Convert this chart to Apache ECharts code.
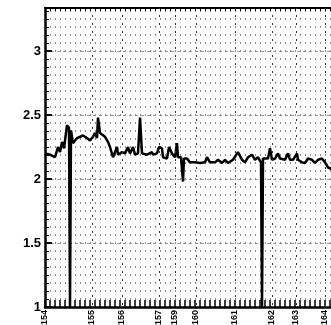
<!DOCTYPE html>
<html><head><meta charset="utf-8">
<script src="https://cdn.jsdelivr.net/npm/echarts@6/dist/echarts.min.js"></script>
<style>html,body{margin:0;padding:0;background:#fff;overflow:hidden}#c{width:360px;height:325px}</style>
</head><body><div id="c"></div>
<script>
// x positions (index units) and values
var xs = [0,5,10,13,15,17,19,22,24,25,25,26,26,28,32,38,42,45,48,50,52,53,55,60,63,65,68,72,73,77,80,83,85,88,90,93,95,97,102,107,108,112,114,117,118,122,124,127,130,132,133,136,138,139,142,145,150,155,160,162,165,170,173,177,180,183,188,193,197,200,203,207,210,213,216,217,217,218,218,223,225,227,230,233,235,240,243,245,248,252,253,257,260,263,267,270,273,277,280,283,286,290,295];
var ys = [2.20,2.19,2.17,2.25,2.21,2.29,2.24,2.42,2.40,2.40,1.0,1.0,2.38,2.28,2.32,2.34,2.32,2.30,2.33,2.36,2.32,2.48,2.36,2.33,2.29,2.25,2.17,2.25,2.19,2.21,2.20,2.25,2.20,2.25,2.19,2.20,2.48,2.20,2.19,2.21,2.19,2.20,2.25,2.24,2.17,2.16,2.25,2.20,2.17,2.28,2.17,2.17,1.98,2.16,2.16,2.13,2.13,2.125,2.13,2.17,2.13,2.13,2.15,2.125,2.15,2.125,2.15,2.21,2.15,2.13,2.17,2.19,2.15,2.17,2.13,2.13,1.0,1.0,2.16,2.16,2.24,2.15,2.16,2.20,2.16,2.15,2.20,2.15,2.15,2.20,2.15,2.13,2.125,2.16,2.15,2.125,2.15,2.16,2.13,2.09,2.08,2.08,2.10];
// x tick labels
var labelPos = [0,47,77,114,130,151,190,227,251,280];
var labelText = ['154','155','156','157','159','160','161','162','163','164'];
var yTicks = [1,1.5,2,2.5,3];

var data = xs.map(function(x,i){return [x, ys[i]];});
var lab = {};
labelPos.forEach(function(p,i){lab[p]=labelText[i];});

var chart = echarts.init(document.getElementById('c'));
chart.setOption({
  animation:false,
  grid:{left:45, width:300, top:8, bottom:18, outerBoundsMode:'none', containLabel:false},
  xAxis:[{
    type:'value', min:0, max:300, interval:5, position:'bottom',
    axisLine:{show:true, onZero:false, lineStyle:{color:'#000', width:2.5}},
    axisTick:{show:true, inside:true, length:7, lineStyle:{color:'#000', width:1.5}},
    splitLine:{show:true, lineStyle:{color:'#8a8a8a', width:1, type:[2,6], dashOffset:6}},
    axisLabel:{customValues:labelPos, rotate:90, fontSize:9, fontWeight:'bold', color:'#000',
      fontFamily:'Liberation Sans', margin:3,
      formatter:function(v){return lab[v]!==undefined?lab[v]:'';}}
  },{
    type:'value', min:0, max:300, interval:5, position:'top',
    axisLine:{show:true, onZero:false, lineStyle:{color:'#000', width:2}},
    axisTick:{show:true, inside:true, length:3, lineStyle:{color:'#000', width:1}},
    splitLine:{show:false}, axisLabel:{show:false}
  }],
  yAxis:[{
    type:'value', min:1, max:3.336, interval:0.5, position:'left',
    axisLine:{show:true, onZero:false, lineStyle:{color:'#000', width:2.5}},
    axisTick:{show:true, inside:true, length:7, lineStyle:{color:'#000', width:2}},
    splitLine:{show:true, lineStyle:{color:'#999', width:1, type:[3,3]}},
    axisLabel:{showMaxLabel:false, fontSize:13, fontWeight:'bold', color:'#000', fontFamily:'Liberation Sans', margin:4,
      formatter:function(v){return yTicks.indexOf(v)>=0?String(v):'';}}
  },{
    type:'value', min:1, max:3.336, interval:0.0625, position:'left', offset:0,
    axisLine:{show:false},
    axisTick:{show:true, inside:true, length:4, lineStyle:{color:'#000', width:1}},
    splitLine:{show:false}, axisLabel:{show:false}
  }],
  series:[{
    type:'line', data:data, xAxisIndex:0, yAxisIndex:0, showSymbol:false, symbol:'none',
    lineStyle:{color:'#000', width:2.5}, clip:true,
    markLine:{silent:true, symbol:'none', label:{show:false},
      lineStyle:{color:'#333', width:1, type:[2,6], dashOffset:6},
      data:labelPos.slice(1).map(function(p){return {xAxis:p};})}
  }]
});
</script></body></html>
